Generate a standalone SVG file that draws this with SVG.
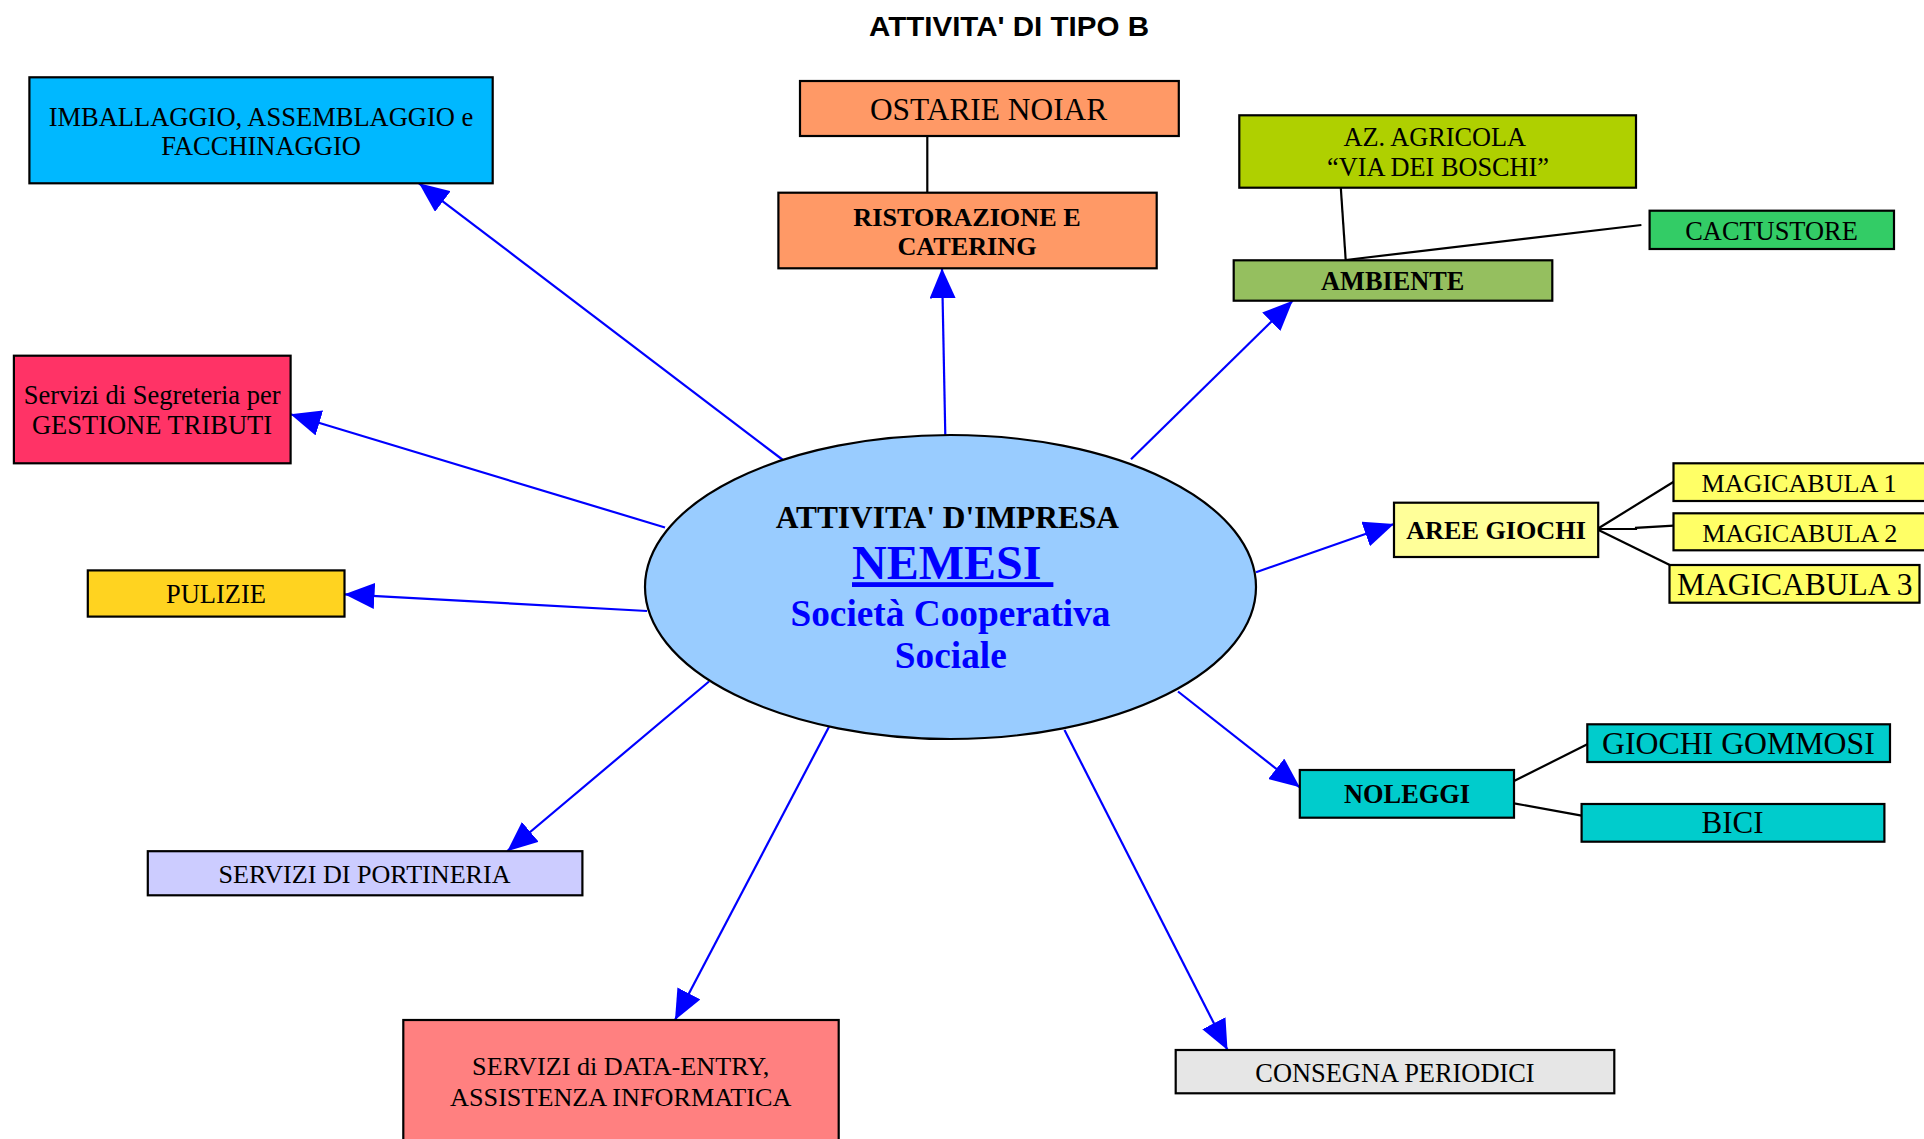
<svg xmlns="http://www.w3.org/2000/svg" width="1924" height="1139" viewBox="0 0 1924 1139">
<style>
  .box { stroke: #000; stroke-width: 2.2; }
  .t { font-family: "Liberation Serif", "Times New Roman", serif; fill: #000; text-anchor: middle; }
  .b { font-weight: bold; }
  .blue { stroke: #0000ff; stroke-width: 2.2; fill: none; }
  .blk { stroke: #000; stroke-width: 2.2; fill: none; }
</style>
<defs>
  <marker id="arr" markerUnits="userSpaceOnUse" viewBox="0 0 30 26" refX="30" refY="13" markerWidth="30" markerHeight="26" orient="auto">
    <path d="M0,0 L30,13 L0,26 z" fill="#0000ff"/>
  </marker>
</defs>
<rect width="1924" height="1139" fill="#fff"/>
<text x="1009" y="35.7" style="font-family:'Liberation Sans', Arial, sans-serif;font-weight:bold;font-size:28px;text-anchor:middle" textLength="280" lengthAdjust="spacingAndGlyphs">ATTIVITA' DI TIPO B</text>

<g id="connectors">
  <line class="blue" x1="783" y1="460" x2="419" y2="183.3" marker-end="url(#arr)"/>
  <line class="blue" x1="945.3" y1="435" x2="942" y2="268.3" marker-end="url(#arr)"/>
  <line class="blue" x1="1131" y1="459.3" x2="1292.7" y2="300.7" marker-end="url(#arr)"/>
  <line class="blue" x1="665" y1="527.5" x2="290.6" y2="414.3" marker-end="url(#arr)"/>
  <line class="blue" x1="647" y1="611" x2="344.5" y2="594.3" marker-end="url(#arr)"/>
  <line class="blue" x1="709" y1="681.5" x2="507.3" y2="851.2" marker-end="url(#arr)"/>
  <line class="blue" x1="831" y1="723" x2="675" y2="1020" marker-end="url(#arr)"/>
  <line class="blue" x1="1064.5" y1="730" x2="1227.5" y2="1050" marker-end="url(#arr)"/>
  <line class="blue" x1="1178" y1="691.5" x2="1299.8" y2="787.3" marker-end="url(#arr)"/>
  <line class="blue" x1="1256" y1="572.3" x2="1394" y2="524" marker-end="url(#arr)"/>
  <line class="blk" x1="927.3" y1="136" x2="927.3" y2="192.7"/>
  <line class="blk" x1="1340.8" y1="187.7" x2="1345.7" y2="260"/>
  <line class="blk" x1="1345.7" y1="260" x2="1641.4" y2="225"/>
  <line class="blk" x1="1598.5" y1="528.3" x2="1673.7" y2="481.7"/>
  <polyline class="blk" points="1598.5,529 1636,529 1636,527.8 1673.7,525.7"/>
  <line class="blk" x1="1598.5" y1="530" x2="1669.8" y2="565"/>
  <line class="blk" x1="1514" y1="781" x2="1587.3" y2="744.3"/>
  <line class="blk" x1="1514" y1="803.3" x2="1581.6" y2="815.7"/>
</g>

<g id="center">
  <ellipse cx="950.5" cy="587" rx="305.5" ry="152" fill="#99ccff" stroke="#000" stroke-width="2.2"/>
  <text class="t b" x="947.3" y="528.3" font-size="31.4">ATTIVITA' D'IMPRESA</text>
  <text class="t b" x="852" y="579.2" font-size="48" style="text-anchor:start;fill:#0000ff;text-decoration:underline" xml:space="preserve">NEMESI </text>
  <text class="t b" x="950.5" y="625.5" font-size="37.3" style="fill:#0000ff">Società Cooperativa</text>
  <text class="t b" x="950.8" y="668" font-size="37.3" style="fill:#0000ff">Sociale</text>
</g>

<g id="imballaggio">
  <rect class="box" x="29.4" y="77.3" width="463.3" height="106" fill="#00b8ff"/>
  <text class="t" x="261" y="125.7" font-size="26.5">IMBALLAGGIO, ASSEMBLAGGIO e</text>
  <text class="t" x="261" y="155" font-size="26.5">FACCHINAGGIO</text>
</g>
<g id="ostarie">
  <rect class="box" x="800" y="81" width="378.8" height="55" fill="#ff9966"/>
  <text class="t" x="988.6" y="120" font-size="31.4">OSTARIE NOIAR</text>
</g>
<g id="ristorazione">
  <rect class="box" x="778.4" y="192.7" width="378.3" height="75.6" fill="#ff9966"/>
  <text class="t b" x="967" y="225.7" font-size="26.2">RISTORAZIONE E</text>
  <text class="t b" x="967" y="255" font-size="26.2">CATERING</text>
</g>
<g id="agricola">
  <rect class="box" x="1239.3" y="115.3" width="396.7" height="72.4" fill="#afd000"/>
  <text class="t" x="1434.8" y="145.7" font-size="26.3">AZ. AGRICOLA</text>
  <text class="t" x="1438" y="175.7" font-size="26.3">“VIA DEI BOSCHI”</text>
</g>
<g id="cactustore">
  <rect class="box" x="1649.6" y="210.7" width="244.4" height="38.3" fill="#33cc66"/>
  <text class="t" x="1771.5" y="240" font-size="26.4">CACTUSTORE</text>
</g>
<g id="ambiente">
  <rect class="box" x="1233.7" y="260.3" width="318.6" height="40.4" fill="#95bf5f"/>
  <text class="t b" x="1392.7" y="290" font-size="26.3">AMBIENTE</text>
</g>
<g id="segreteria">
  <rect class="box" x="13.9" y="355.7" width="276.7" height="107.6" fill="#ff3366"/>
  <text class="t" x="152.2" y="404.3" font-size="26.5">Servizi di Segreteria per</text>
  <text class="t" x="152" y="434.3" font-size="26.5">GESTIONE TRIBUTI</text>
</g>
<g id="pulizie">
  <rect class="box" x="87.8" y="570.4" width="256.7" height="46.2" fill="#ffd320"/>
  <text class="t" x="216" y="602.7" font-size="26.5">PULIZIE</text>
</g>
<g id="aree">
  <rect class="box" x="1394" y="502.7" width="204.2" height="54.3" fill="#ffff99"/>
  <text class="t b" x="1496" y="539.3" font-size="26.2">AREE GIOCHI</text>
</g>
<g id="magicabula1">
  <rect class="box" x="1673.5" y="463.3" width="262" height="37.7" fill="#ffff66"/>
  <text class="t" x="1799" y="491.7" font-size="26.1">MAGICABULA 1</text>
</g>
<g id="magicabula2">
  <rect class="box" x="1673.5" y="513.3" width="262" height="37" fill="#ffff66"/>
  <text class="t" x="1799.7" y="541.7" font-size="26.1">MAGICABULA 2</text>
</g>
<g id="magicabula3">
  <rect class="box" x="1669.5" y="565" width="250" height="37.7" fill="#ffff66"/>
  <text class="t" x="1794.7" y="595" font-size="31.5">MAGICABULA 3</text>
</g>
<g id="giochi-gommosi">
  <rect class="box" x="1587.3" y="724.3" width="302.7" height="37.7" fill="#00cccc"/>
  <text class="t" x="1738.4" y="754.3" font-size="31.8">GIOCHI GOMMOSI</text>
</g>
<g id="noleggi">
  <rect class="box" x="1299.8" y="770" width="214.2" height="47.7" fill="#00cccc"/>
  <text class="t b" x="1407" y="802.7" font-size="26.4">NOLEGGI</text>
</g>
<g id="bici">
  <rect class="box" x="1581.6" y="804" width="302.8" height="37.7" fill="#00cccc"/>
  <text class="t" x="1732.6" y="833.3" font-size="31">BICI</text>
</g>
<g id="portineria">
  <rect class="box" x="147.8" y="851.2" width="434.6" height="44.1" fill="#ccccff"/>
  <text class="t" x="364.5" y="882.7" font-size="26.1">SERVIZI DI PORTINERIA</text>
</g>
<g id="data-entry">
  <rect class="box" x="403.3" y="1020" width="435.4" height="140" fill="#ff8080"/>
  <text class="t" x="620.7" y="1075" font-size="26.2">SERVIZI di DATA-ENTRY,</text>
  <text class="t" x="620.7" y="1106" font-size="26.2">ASSISTENZA INFORMATICA</text>
</g>
<g id="consegna">
  <rect class="box" x="1175.7" y="1050" width="438.6" height="43.3" fill="#e6e6e6"/>
  <text class="t" x="1395" y="1081.7" font-size="26.4">CONSEGNA PERIODICI</text>
</g>
</svg>
